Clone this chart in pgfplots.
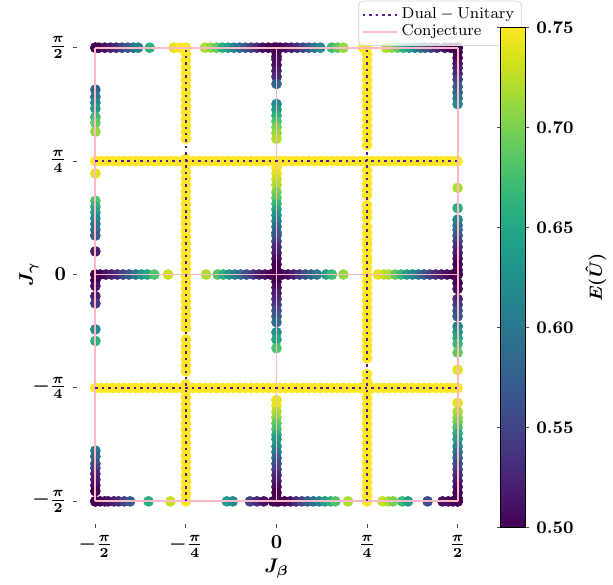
\documentclass[border=0pt]{standalone}
\usepackage{pgfplots}
\pgfplotsset{compat=1.18}
\usepackage{pgfplotstable}
\definecolor{vyellow}{RGB}{253,231,37}
\definecolor{dualc}{RGB}{80,32,145}
\definecolor{conjc}{RGB}{255,185,198}
\pgfplotsset{
  layers/mylayers/.define layer set={axis background,axis grid,axis ticks,axis lines,axis tick labels,main,pinklayer,yellowlayer,dotlayer,axis descriptions,axis foreground}{},
}

% top row  y = pi/2
\pgfplotstableread{
x y c
-1.571 1.5708 0.50
-1.54 1.5708 0.50
-1.49 1.5708 0.51
-1.44 1.5708 0.52
-1.39 1.5708 0.53
-1.34 1.5708 0.55
-1.29 1.5708 0.57
-1.24 1.5708 0.59
-1.20 1.5708 0.61
-1.10 1.5708 0.66
-0.89 1.5708 0.74
-0.84 1.5708 0.75
-0.62 1.5708 0.72
-0.57 1.5708 0.71
-0.52 1.5708 0.69
-0.47 1.5708 0.66
-0.42 1.5708 0.64
-0.37 1.5708 0.61
-0.32 1.5708 0.59
-0.27 1.5708 0.57
-0.22 1.5708 0.55
-0.17 1.5708 0.53
-0.12 1.5708 0.51
-0.07 1.5708 0.50
-0.02 1.5708 0.50
0.03 1.5708 0.50
0.08 1.5708 0.51
0.13 1.5708 0.52
0.18 1.5708 0.53
0.23 1.5708 0.55
0.28 1.5708 0.57
0.33 1.5708 0.60
0.38 1.5708 0.62
0.48 1.5708 0.67
0.53 1.5708 0.69
0.58 1.5708 0.71
0.75 1.5708 0.75
0.95 1.5708 0.72
1.00 1.5708 0.71
1.05 1.5708 0.69
1.10 1.5708 0.66
1.15 1.5708 0.64
1.20 1.5708 0.61
1.25 1.5708 0.59
1.29 1.5708 0.57
1.34 1.5708 0.55
1.39 1.5708 0.53
1.46 1.5708 0.51
1.51 1.5708 0.50
1.55 1.5708 0.50
1.571 1.5708 0.50
}\toprow

% middle row y = 0
\pgfplotstableread{
x y c
-1.571 0 0.50
-1.53 0 0.50
-1.48 0 0.51
-1.43 0 0.52
-1.38 0 0.53
-1.33 0 0.55
-1.28 0 0.57
-1.22 0 0.60
-1.17 0 0.63
-1.12 0 0.65
-1.06 0 0.68
-0.94 0 0.73
-0.61 0 0.72
-0.51 0 0.68
-0.46 0 0.66
-0.41 0 0.63
-0.36 0 0.61
-0.31 0 0.59
-0.26 0 0.56
-0.20 0 0.54
-0.15 0 0.52
-0.10 0 0.51
-0.05 0 0.50
0.00 0 0.50
0.05 0 0.50
0.10 0 0.51
0.15 0 0.52
0.20 0 0.54
0.25 0 0.56
0.30 0 0.58
0.35 0 0.60
0.43 0 0.64
0.48 0 0.67
0.58 0 0.71
0.88 0 0.74
0.93 0 0.73
0.97 0 0.72
1.03 0 0.69
1.08 0 0.67
1.13 0 0.64
1.18 0 0.62
1.23 0 0.60
1.28 0 0.57
1.33 0 0.55
1.38 0 0.53
1.43 0 0.52
1.48 0 0.51
1.53 0 0.50
1.571 0 0.50
}\midrow

% bottom row y = -pi/2
\pgfplotstableread{
x y c
-1.571 -1.5708 0.50
-1.53 -1.5708 0.50
-1.49 -1.5708 0.51
-1.46 -1.5708 0.51
-1.41 -1.5708 0.52
-1.37 -1.5708 0.53
-1.32 -1.5708 0.55
-1.27 -1.5708 0.57
-1.11 -1.5708 0.66
-0.92 -1.5708 0.73
-0.43 -1.5708 0.64
-0.38 -1.5708 0.62
-0.23 -1.5708 0.55
-0.17 -1.5708 0.53
-0.11 -1.5708 0.51
-0.03 -1.5708 0.50
0.02 -1.5708 0.50
0.07 -1.5708 0.50
0.12 -1.5708 0.51
0.17 -1.5708 0.53
0.22 -1.5708 0.55
0.27 -1.5708 0.57
0.32 -1.5708 0.59
0.37 -1.5708 0.61
0.42 -1.5708 0.64
0.47 -1.5708 0.66
0.51 -1.5708 0.68
0.62 -1.5708 0.72
0.92 -1.5708 0.73
0.97 -1.5708 0.72
1.01 -1.5708 0.70
1.09 -1.5708 0.67
1.14 -1.5708 0.64
1.31 -1.5708 0.56
1.44 -1.5708 0.51
1.49 -1.5708 0.51
1.53 -1.5708 0.50
1.571 -1.5708 0.50
}\botrow

% column x = 0
\pgfplotstableread{
x y c
0 1.571 0.50
0 1.54 0.50
0 1.51 0.50
0 1.49 0.51
0 1.45 0.51
0 1.41 0.52
0 1.37 0.53
0 1.32 0.58
0 1.18 0.62
0 1.14 0.64
0 1.10 0.66
0 1.06 0.68
0 1.02 0.70
0 0.98 0.71
0 0.94 0.72
0 0.74 0.75
0 0.70 0.74
0 0.66 0.73
0 0.62 0.72
0 0.57 0.70
0 0.53 0.69
0 0.49 0.67
0 0.45 0.65
0 0.41 0.63
0 0.37 0.61
0 0.33 0.59
0 0.29 0.57
0 0.27 0.57
0 0.23 0.55
0 0.19 0.53
0 0.15 0.52
0 0.11 0.51
0 0.07 0.50
0 0.03 0.50
0 -0.01 0.50
0 -0.05 0.50
0 -0.09 0.51
0 -0.13 0.52
0 -0.17 0.53
0 -0.21 0.54
0 -0.25 0.56
0 -0.29 0.57
0 -0.33 0.59
0 -0.40 0.63
0 -0.45 0.65
0 -0.51 0.68
0 -0.87 0.74
0 -0.91 0.74
0 -0.95 0.72
0 -0.99 0.71
0 -1.03 0.69
0 -1.07 0.68
0 -1.11 0.66
0 -1.14 0.64
0 -1.19 0.62
0 -1.23 0.60
0 -1.27 0.58
0 -1.31 0.56
0 -1.35 0.55
0 -1.39 0.53
0 -1.43 0.52
0 -1.47 0.51
0 -1.51 0.50
0 -1.55 0.50
0 -1.571 0.50
}\zerocol

% column x = -pi/2
\pgfplotstableread{
x y c
-1.5708 1.571 0.50
-1.5708 1.28 0.58
-1.5708 1.23 0.60
-1.5708 1.19 0.62
-1.5708 1.15 0.64
-1.5708 1.09 0.67
-1.5708 1.05 0.69
-1.5708 0.99 0.71
-1.5708 0.70 0.74
-1.5708 0.51 0.68
-1.5708 0.47 0.66
-1.5708 0.43 0.64
-1.5708 0.39 0.62
-1.5708 0.35 0.60
-1.5708 0.31 0.59
-1.5708 0.27 0.57
-1.5708 0.16 0.52
-1.5708 0.00 0.50
-1.5708 -0.04 0.50
-1.5708 -0.08 0.51
-1.5708 -0.15 0.52
-1.5708 -0.20 0.54
-1.5708 -0.38 0.62
-1.5708 -0.46 0.66
-1.5708 -1.22 0.60
-1.5708 -1.26 0.58
-1.5708 -1.31 0.56
-1.5708 -1.34 0.55
-1.5708 -1.38 0.53
-1.5708 -1.42 0.52
-1.5708 -1.46 0.51
-1.5708 -1.50 0.50
-1.5708 -1.571 0.50
}\leftcol

% column x = pi/2
\pgfplotstableread{
x y c
1.5708 1.571 0.50
1.5708 1.54 0.50
1.5708 1.50 0.50
1.5708 1.46 0.51
1.5708 1.43 0.52
1.5708 1.39 0.53
1.5708 1.35 0.55
1.5708 1.30 0.57
1.5708 1.26 0.58
1.5708 1.22 0.60
1.5708 1.18 0.62
1.5708 0.60 0.72
1.5708 0.46 0.66
1.5708 0.38 0.62
1.5708 0.34 0.60
1.5708 0.31 0.59
1.5708 0.27 0.57
1.5708 0.23 0.55
1.5708 0.19 0.53
1.5708 0.15 0.52
1.5708 0.11 0.51
1.5708 0.07 0.50
1.5708 0.03 0.50
1.5708 0.00 0.50
1.5708 -0.06 0.50
1.5708 -0.10 0.51
1.5708 -0.17 0.53
1.5708 -0.21 0.54
1.5708 -0.25 0.56
1.5708 -0.29 0.57
1.5708 -0.36 0.61
1.5708 -0.40 0.63
1.5708 -0.44 0.65
1.5708 -0.48 0.67
1.5708 -0.54 0.69
1.5708 -0.66 0.74
1.5708 -0.89 0.74
1.5708 -0.95 0.72
1.5708 -0.99 0.71
1.5708 -1.02 0.70
1.5708 -1.06 0.68
1.5708 -1.10 0.66
1.5708 -1.14 0.64
1.5708 -1.19 0.62
1.5708 -1.23 0.60
1.5708 -1.27 0.58
1.5708 -1.31 0.56
1.5708 -1.35 0.55
1.5708 -1.39 0.53
1.5708 -1.43 0.52
1.5708 -1.47 0.51
1.5708 -1.51 0.50
1.5708 -1.55 0.50
1.5708 -1.571 0.50
}\rightcol

% yellow column x = -pi/4
\pgfplotstableread{
x y
-0.7854 1.571
-0.7854 1.526
-0.7854 1.481
-0.7854 1.436
-0.7854 1.391
-0.7854 1.346
-0.7854 1.301
-0.7854 1.256
-0.7854 1.211
-0.7854 1.166
-0.7854 1.121
-0.7854 1.076
-0.7854 1.031
-0.7854 0.986
-0.7854 0.941
-0.7854 0.80
-0.7854 0.755
-0.7854 0.71
-0.7854 0.665
-0.7854 0.62
-0.7854 0.575
-0.7854 0.53
-0.7854 0.485
-0.7854 0.44
-0.7854 0.395
-0.7854 0.35
-0.7854 0.305
-0.7854 0.26
-0.7854 0.215
-0.7854 0.17
-0.7854 0.125
-0.7854 0.08
-0.7854 0.035
-0.7854 -0.01
-0.7854 -0.055
-0.7854 -0.10
-0.7854 -0.145
-0.7854 -0.19
-0.7854 -0.235
-0.7854 -0.28
-0.7854 -0.325
-0.7854 -0.37
-0.7854 -0.45
-0.7854 -0.495
-0.7854 -0.54
-0.7854 -0.585
-0.7854 -0.63
-0.7854 -0.67
-0.7854 -0.76
-0.7854 -0.805
-0.7854 -0.85
-0.7854 -0.895
-0.7854 -0.94
-0.7854 -0.985
-0.7854 -1.03
-0.7854 -1.075
-0.7854 -1.12
-0.7854 -1.165
-0.7854 -1.21
-0.7854 -1.255
-0.7854 -1.30
-0.7854 -1.345
-0.7854 -1.39
-0.7854 -1.435
-0.7854 -1.48
-0.7854 -1.525
-0.7854 -1.571
}\ycolA

% yellow column x = pi/4
\pgfplotstableread{
x y
0.7854 1.571
0.7854 1.526
0.7854 1.481
0.7854 1.436
0.7854 1.391
0.7854 1.346
0.7854 1.301
0.7854 1.256
0.7854 1.211
0.7854 1.166
0.7854 1.121
0.7854 1.076
0.7854 1.031
0.7854 0.986
0.7854 0.941
0.7854 0.896
0.7854 0.72
0.7854 0.675
0.7854 0.63
0.7854 0.585
0.7854 0.55
0.7854 0.48
0.7854 0.435
0.7854 0.39
0.7854 0.33
0.7854 0.285
0.7854 0.24
0.7854 0.21
0.7854 0.165
0.7854 0.12
0.7854 0.09
0.7854 0.045
0.7854 0.00
0.7854 -0.045
0.7854 -0.09
0.7854 -0.135
0.7854 -0.18
0.7854 -0.225
0.7854 -0.27
0.7854 -0.315
0.7854 -0.36
0.7854 -0.41
0.7854 -0.45
0.7854 -0.49
0.7854 -0.53
0.7854 -0.58
0.7854 -0.69
0.7854 -0.74
0.7854 -0.81
0.7854 -0.855
0.7854 -0.90
0.7854 -0.945
0.7854 -0.99
0.7854 -1.035
0.7854 -1.08
0.7854 -1.125
0.7854 -1.17
0.7854 -1.215
0.7854 -1.26
0.7854 -1.305
0.7854 -1.35
0.7854 -1.395
0.7854 -1.44
0.7854 -1.485
0.7854 -1.53
0.7854 -1.571
}\ycolB

% yellow rows y = pi/4 and y = -pi/4
\pgfplotstableread{
x yp ym
-1.571 0.7854 -0.7854
-1.52 0.7854 -0.7854
-1.47 0.7854 -0.7854
-1.42 0.7854 -0.7854
-1.37 0.7854 -0.7854
-1.32 0.7854 -0.7854
-1.27 0.7854 -0.7854
-1.22 0.7854 -0.7854
-1.17 0.7854 -0.7854
-1.12 0.7854 -0.7854
-1.07 0.7854 -0.7854
-1.02 0.7854 -0.7854
-0.97 0.7854 -0.7854
-0.92 0.7854 -0.7854
-0.87 0.7854 -0.7854
-0.82 0.7854 -0.7854
-0.77 0.7854 -0.7854
-0.72 0.7854 -0.7854
-0.67 0.7854 -0.7854
-0.62 0.7854 -0.7854
-0.57 0.7854 -0.7854
-0.52 0.7854 -0.7854
-0.47 0.7854 -0.7854
-0.42 0.7854 -0.7854
-0.37 0.7854 -0.7854
-0.32 0.7854 -0.7854
-0.27 0.7854 -0.7854
-0.22 0.7854 -0.7854
-0.17 0.7854 -0.7854
-0.12 0.7854 -0.7854
-0.07 0.7854 -0.7854
-0.02 0.7854 -0.7854
0.03 0.7854 -0.7854
0.08 0.7854 -0.7854
0.13 0.7854 -0.7854
0.18 0.7854 -0.7854
0.23 0.7854 -0.7854
0.28 0.7854 -0.7854
0.33 0.7854 -0.7854
0.38 0.7854 -0.7854
0.43 0.7854 -0.7854
0.48 0.7854 -0.7854
0.53 0.7854 -0.7854
0.58 0.7854 -0.7854
0.63 0.7854 -0.7854
0.68 0.7854 -0.7854
0.73 0.7854 -0.7854
0.78 0.7854 -0.7854
0.83 0.7854 -0.7854
0.88 0.7854 -0.7854
0.93 0.7854 -0.7854
0.98 0.7854 -0.7854
1.03 0.7854 -0.7854
1.08 0.7854 -0.7854
1.13 0.7854 -0.7854
1.18 0.7854 -0.7854
1.23 0.7854 -0.7854
1.28 0.7854 -0.7854
1.33 0.7854 -0.7854
1.38 0.7854 -0.7854
1.43 0.7854 -0.7854
1.48 0.7854 -0.7854
1.53 0.7854 -0.7854
1.571 0.7854 -0.7854
}\yrows

\begin{document}
\begin{tikzpicture}
\begin{axis}[
  name=main,
  set layers=mylayers,
  scale only axis, width=202pt, height=253pt,
  xmin=-1.73, xmax=1.73, ymin=-1.73, ymax=1.73,
  axis line style={draw=none},
  tick align=outside, xtick pos=bottom, ytick pos=left,
  major tick length=2pt,
  tick style={black!70, line width=0.5pt},
  xtick={-1.5708,-0.7854,0,0.7854,1.5708},
  ytick={-1.5708,-0.7854,0,0.7854,1.5708},
  xticklabels={$-\frac{\pi}{2}$,$-\frac{\pi}{4}$,$0$,$\frac{\pi}{4}$,$\frac{\pi}{2}$},
  yticklabels={$-\frac{\pi}{2}$,$-\frac{\pi}{4}$,$0$,$\frac{\pi}{4}$,$\frac{\pi}{2}$},
  tick label style={font=\boldmath},
  label style={font=\boldmath},
  xlabel={$J_\beta$}, ylabel={$J_\gamma$},
  xlabel shift=-6pt, ylabel shift=-10pt,
  colormap/viridis, point meta min=0.5, point meta max=0.75,
  colorbar,
  colorbar style={
    width=12.5pt,
    at={(parent axis.north east)}, anchor=north west, xshift=4pt, yshift=-1.5pt,
    axis line style={draw=black, line width=0.4pt},
    tick align=outside, major tick length=2pt,
    ytick={0.5,0.55,0.6,0.65,0.7,0.75},
    yticklabel={\pgfmathprintnumber[fixed,fixed zerofill,precision=2]{\tick}},
    yticklabel style={font=\fontsize{9}{11}\selectfont\boldmath},
    ylabel={$E(\hat{U})$}, ylabel style={font=\fontsize{9}{11}\selectfont\boldmath},
    ylabel shift=-1pt,
  },
  legend style={at={(1.115,1.048)}, anchor=north east, font=\fontsize{8.5}{9}\selectfont,
    draw=black!15, rounded corners=2pt, fill=white, fill opacity=0.8, text opacity=1,
    row sep=-2.5pt, inner sep=1.5pt},
  legend cell align=left,
]
\addlegendimage{dualc, line width=1.25pt, dash pattern=on 1.25pt off 2pt}
\addlegendentry{$\mathrm{Dual-Unitary}$}
\addlegendimage{conjc, line width=0.9pt}
\addlegendentry{$\mathrm{Conjecture}$}

\pgfplotsset{myscat/.style={scatter, only marks, mark=*, mark size=2.5pt, point meta=explicit, forget plot,
   scatter/use mapped color={draw=mapped color, fill=mapped color}}}
\addplot[myscat] table[x=x,y=y,meta=c] {\toprow};
\addplot[myscat] table[x=x,y=y,meta=c] {\midrow};
\addplot[myscat] table[x=x,y=y,meta=c] {\botrow};
\addplot[myscat] table[x=x,y=y,meta=c] {\zerocol};
\addplot[myscat] table[x=x,y=y,meta=c] {\leftcol};
\addplot[myscat] table[x=x,y=y,meta=c] {\rightcol};

% conjecture lines
\pgfplotsset{myconj/.style={conjc, line width=0.9pt, forget plot, on layer=pinklayer}}
\addplot[myconj] coordinates {(-1.5708,-1.5708) (-1.5708,1.5708)};
\addplot[myconj] coordinates {(0,-1.5708) (0,1.5708)};
\addplot[myconj] coordinates {(1.5708,-1.5708) (1.5708,1.5708)};
\addplot[myconj] coordinates {(-1.5708,-1.5708) (1.5708,-1.5708)};
\addplot[myconj] coordinates {(-1.5708,0) (1.5708,0)};
\addplot[myconj] coordinates {(-1.5708,1.5708) (1.5708,1.5708)};

% yellow (maximal) points
\pgfplotsset{myyel/.style={only marks, mark=*, mark size=2.5pt, color=vyellow,
   mark options={draw=vyellow, fill=vyellow}, forget plot, on layer=yellowlayer}}
\addplot[myyel] table[x=x,y=y] {\ycolA};
\addplot[myyel] table[x=x,y=y] {\ycolB};
\addplot[myyel] table[x=x,y=yp] {\yrows};
\addplot[myyel] table[x=x,y=ym] {\yrows};

% dual-unitary lines
\pgfplotsset{mydual/.style={dualc, line width=1.25pt, dash pattern=on 1.25pt off 2pt, forget plot, on layer=dotlayer}}
\addplot[mydual] coordinates {(-0.7854,-1.5708) (-0.7854,1.5708)};
\addplot[mydual] coordinates {(0.7854,-1.5708) (0.7854,1.5708)};
\addplot[mydual] coordinates {(-1.5708,-0.7854) (1.5708,-0.7854)};
\addplot[mydual] coordinates {(-1.5708,0.7854) (1.5708,0.7854)};
\end{axis}
\path (main.south west) ++(-39pt,-28pt) coordinate (bl);
\path (bl) rectangle ++(306.5pt,293.5pt);
\end{tikzpicture}
\end{document}
